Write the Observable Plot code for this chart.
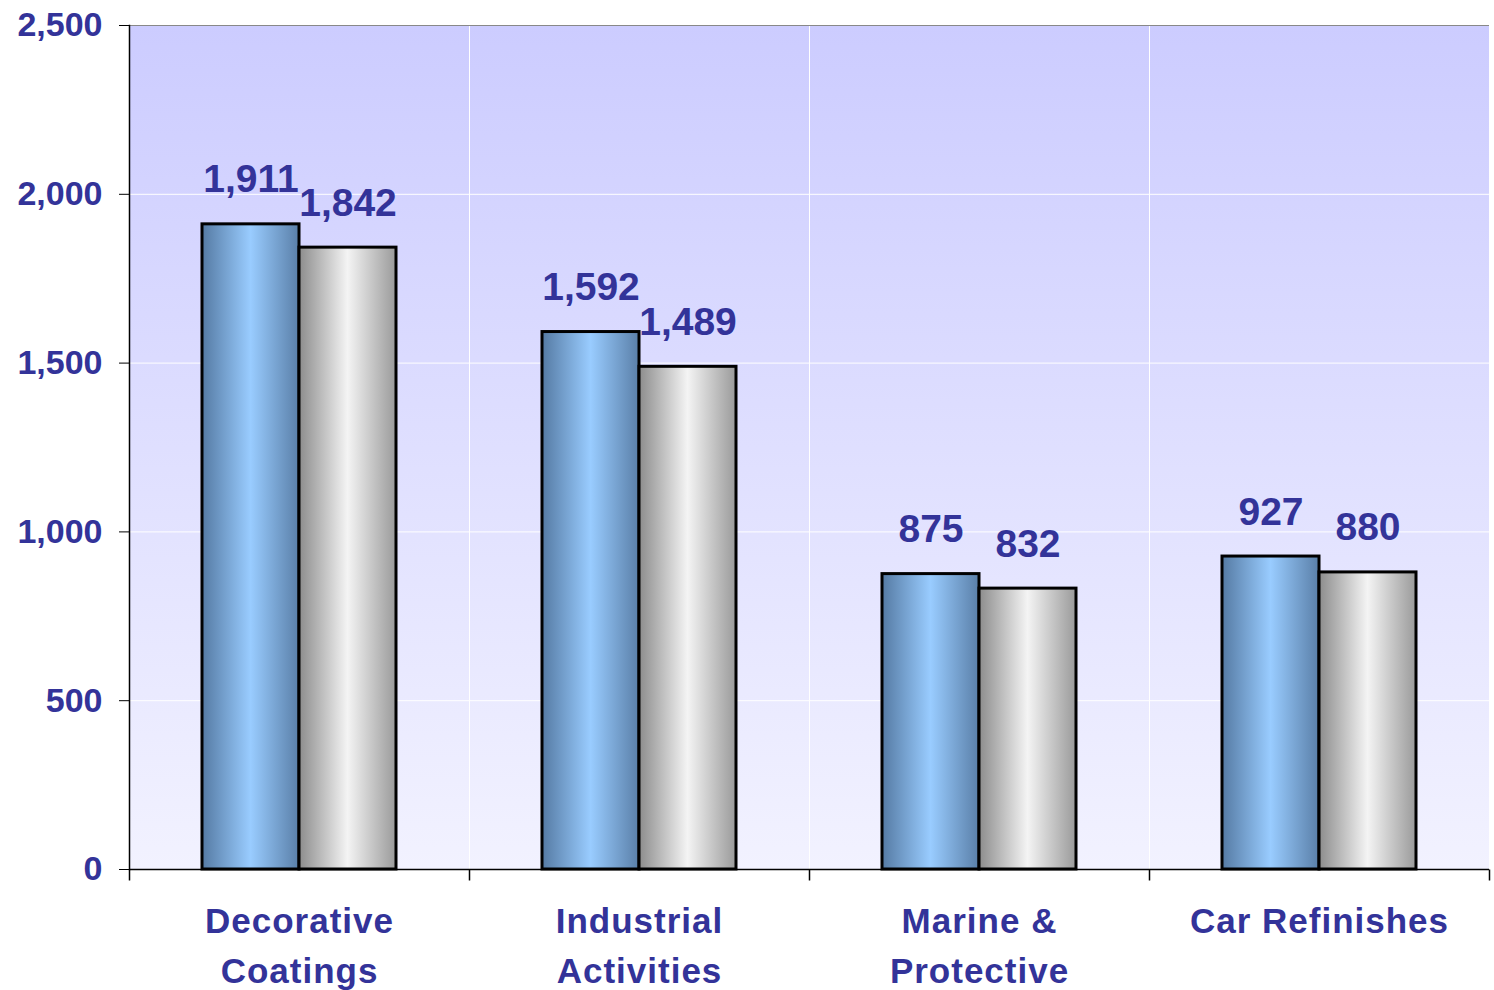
<!DOCTYPE html>
<html><head><meta charset="utf-8">
<script src="https://cdn.jsdelivr.net/npm/d3@7"></script>
<script src="https://cdn.jsdelivr.net/npm/@observablehq/plot@0.6"></script>
<style>body{margin:0;background:#fff}</style>
</head><body><div id="chart"></div>
<script>
const categories = ["Decorative Coatings","Industrial Activities","Marine & Protective","Car Refinishes"];
const categoryLines = ["Decorative\nCoatings","Industrial\nActivities","Marine &\nProtective","Car Refinishes"];
const seriesNames = ["Series 1","Series 2"];
const series1 = [1911,1592,875,927];
const series2 = [1842,1489,832,880];
const yTicks = [0,500,1000,1500,2000,2500];

const data = categories.flatMap((c,i)=>[
  {category:c, series:seriesNames[0], value:series1[i]},
  {category:c, series:seriesNames[1], value:series2[i]}]);
const labelOf = new Map(categories.map((c,i)=>[c, categoryLines[i]]));
const ink = "#333399";
const font = '"Liberation Sans", Arial, sans-serif';
const fmt = d3.format(",");
const tickMark = {draw(ctx){ ctx.moveTo(0,0); ctx.lineTo(0,11); }};

const svg = Plot.plot({
  width:1494, height:990, marginTop:25, marginBottom:121, marginLeft:128, marginRight:4,
  style:{fontFamily: font, background:"transparent", overflow:"visible"},
  fx:{domain:categories, padding:0, axis:null, label:null},
  x:{domain:seriesNames, paddingInner:0, paddingOuter:0.737, axis:null, label:null},
  y:{domain:[0,2500], axis:null, label:null},
  color:{domain:seriesNames, range:["url(#gBlue)","url(#gGrey)"]},
  marks:[
    Plot.frame({fill:"url(#gBg)", stroke:"white", strokeWidth:1}),
    Plot.gridY(yTicks.slice(1,-1), {stroke:"white", strokeOpacity:1, strokeWidth:1}),
    Plot.barY(data, {fx:"category", x:"series", y:"value", fill:"series", stroke:"black", strokeWidth:3}),
    Plot.ruleY([yTicks[yTicks.length-1]], {stroke:"#888"}),
    Plot.ruleY([0], {stroke:"black", strokeWidth:1.5}),
    Plot.frame({anchor:"left", facetAnchor:"left", stroke:"black", strokeWidth:1.5}),
    Plot.dot([0], {frameAnchor:"bottom-left", symbol: tickMark, stroke:"black", strokeWidth:1.5}),
    Plot.dot([0], {frameAnchor:"bottom-right", facetAnchor:"right", symbol: tickMark, stroke:"black", strokeWidth:1.5}),
    Plot.axisY(yTicks, {label:null, tickSize:10, tickPadding:17, tickFormat:fmt, fontSize:34, fontWeight:"bold", fill:ink, stroke:"black"}),
    Plot.text(data, {fx:"category", x:"series", y:"value", text:d=>fmt(d.value), lineAnchor:"bottom", dy:-32, fontSize:39, fontWeight:"bold", fill:ink}),
    Plot.text(categories, {fx:d=>d, text:d=>labelOf.get(d), frameAnchor:"bottom", lineAnchor:"top", dy:27, lineHeight:1.45, fontSize:35, fontWeight:"bold", fill:ink})
  ]
});

const defs = d3.select(svg).insert("defs", ":first-child");
function lin(id, horiz, stops){
  const g = defs.append("linearGradient").attr("id", id)
    .attr("x1",0).attr("y1",0).attr("x2", horiz?1:0).attr("y2", horiz?0:1);
  stops.forEach(([o,c])=>g.append("stop").attr("offset",o).attr("stop-color",c));
}
lin("gBlue", true, [[0,"#557aa3"],[0.5,"#99ccff"],[1,"#5a7fa8"]]);
lin("gGrey", true, [[0,"#8c8c8c"],[0.5,"#f4f4f4"],[1,"#9a9a9a"]]);
lin("gBg", false, [[0,"#ccccff"],[1,"#f2f2ff"]]);
const flatLabels = categoryLines.map(s => s.replace("\n", ""));
d3.select(svg).selectAll("text")
  .filter(function(){ return flatLabels.includes(this.textContent); })
  .style("letter-spacing", "1px");
document.getElementById("chart").appendChild(svg);
</script>
</body></html>
